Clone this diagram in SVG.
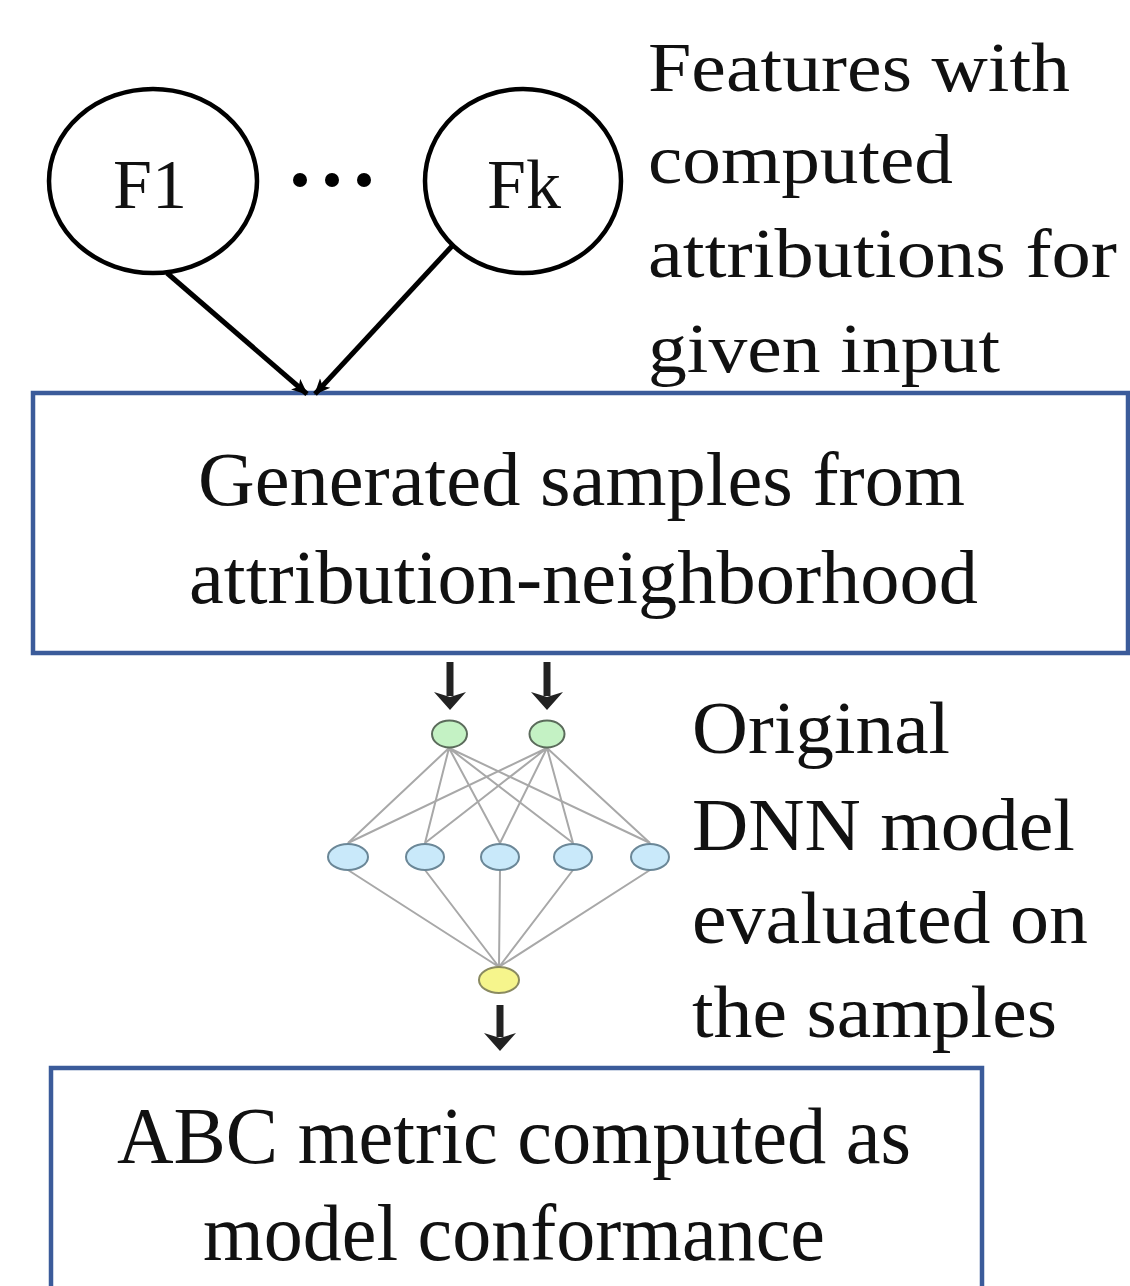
<svg xmlns="http://www.w3.org/2000/svg" width="1130" height="1286" viewBox="0 0 1130 1286">
  <style>
    .txt { font-family: "Liberation Serif", "Times New Roman", serif; fill: #111; }
    .feat { fill: #fff; stroke: #000; stroke-width: 4.5; }
    .box { fill: #fff; stroke: #3b5b9a; stroke-width: 4.5; }
    .conn { stroke: #000; stroke-width: 5; fill: none; }
    .syn { stroke: #a8a8a8; stroke-width: 2; fill: none; }
    .flow { stroke: #222; stroke-width: 7; fill: none; }
    .head { fill: #222; }
    .n-in { fill: #c4f2c4; stroke: #5b6b5b; stroke-width: 2; }
    .n-hid { fill: #c9e9fa; stroke: #6b8797; stroke-width: 2; }
    .n-out { fill: #f6f58c; stroke: #8a8a60; stroke-width: 2; }
  </style>
  <defs>
    <marker id="arrow" viewBox="0 0 16 16" refX="15" refY="8" markerWidth="16" markerHeight="16" orient="auto" markerUnits="userSpaceOnUse">
      <path d="M0,1 L16,8 L0,15 L4,8 Z" fill="#000"/>
    </marker>
  </defs>
  <rect width="1130" height="1286" fill="#fff"/>

  <!-- feature nodes -->
  <g id="node-f1">
    <ellipse class="feat" cx="153" cy="181" rx="104" ry="92"/>
    <text class="txt" x="150" y="208" font-size="70" text-anchor="middle">F1</text>
  </g>
  <g id="ellipsis">
    <circle cx="300" cy="180" r="7" fill="#000"/>
    <circle cx="332" cy="180" r="7" fill="#000"/>
    <circle cx="364" cy="180" r="7" fill="#000"/>
  </g>
  <g id="node-fk">
    <ellipse class="feat" cx="523" cy="181" rx="98" ry="92"/>
    <text class="txt" x="524" y="208" font-size="70" text-anchor="middle">Fk</text>
  </g>
  <g id="label-features">
    <text class="txt" font-size="70">
      <tspan x="648" y="91" textLength="422" lengthAdjust="spacingAndGlyphs">Features with</tspan>
      <tspan x="648" y="183" textLength="305" lengthAdjust="spacingAndGlyphs">computed</tspan>
      <tspan x="648" y="277" textLength="469" lengthAdjust="spacingAndGlyphs">attributions for</tspan>
      <tspan x="648" y="372" textLength="352" lengthAdjust="spacingAndGlyphs">given input</tspan>
    </text>
  </g>

  <!-- sample generation box -->
  <g id="node-samples">
    <rect class="box" x="33" y="393" width="1095" height="260"/>
    <text class="txt" font-size="76">
      <tspan x="198" y="505" textLength="767" lengthAdjust="spacingAndGlyphs">Generated samples from</tspan>
      <tspan x="189" y="603" textLength="789" lengthAdjust="spacingAndGlyphs">attribution-neighborhood</tspan>
    </text>
  </g>

  <!-- DNN model -->
  <g id="node-dnn">
    <g id="synapses">
      <path class="syn" d="M449,748 L348,843 M449,748 L425,843 M449,748 L500,843 M449,748 L573,843 M449,748 L650,843"/>
      <path class="syn" d="M547,748 L348,843 M547,748 L425,843 M547,748 L500,843 M547,748 L573,843 M547,748 L650,843"/>
      <path class="syn" d="M348,870 L499,967 M425,870 L499,967 M500,870 L499,967 M573,870 L499,967 M650,870 L499,967"/>
    </g>
    <ellipse class="n-in" cx="449.5" cy="734" rx="17.5" ry="13.5"/>
    <ellipse class="n-in" cx="547" cy="734" rx="17.5" ry="13.5"/>
    <ellipse class="n-hid" cx="348" cy="857" rx="20" ry="13"/>
    <ellipse class="n-hid" cx="425" cy="857" rx="19" ry="13"/>
    <ellipse class="n-hid" cx="500" cy="857" rx="19" ry="13"/>
    <ellipse class="n-hid" cx="573" cy="857" rx="19" ry="13"/>
    <ellipse class="n-hid" cx="650" cy="857" rx="19" ry="13"/>
    <ellipse class="n-out" cx="499" cy="980" rx="20" ry="13"/>
  </g>
  <g id="label-dnn">
    <text class="txt" font-size="74">
      <tspan x="692" y="753" textLength="258" lengthAdjust="spacingAndGlyphs">Original</tspan>
      <tspan x="692" y="850" textLength="383" lengthAdjust="spacingAndGlyphs">DNN model</tspan>
      <tspan x="692" y="943" textLength="396" lengthAdjust="spacingAndGlyphs">evaluated on</tspan>
      <tspan x="692" y="1037" textLength="365" lengthAdjust="spacingAndGlyphs">the samples</tspan>
    </text>
  </g>

  <!-- metric box -->
  <g id="node-metric">
    <rect class="box" x="51" y="1068" width="931" height="240"/>
    <text class="txt" font-size="80">
      <tspan x="117" y="1163" textLength="794" lengthAdjust="spacingAndGlyphs">ABC metric computed as</tspan>
      <tspan x="203" y="1260" textLength="622" lengthAdjust="spacingAndGlyphs">model conformance</tspan>
    </text>
  </g>

  <!-- connectors -->
  <g id="connectors">
    <line class="conn" x1="167" y1="273" x2="307" y2="394" marker-end="url(#arrow)"/>
    <line class="conn" x1="453" y1="245" x2="315" y2="394" marker-end="url(#arrow)"/>
    <g id="flow-in-1">
      <line class="flow" x1="450" y1="662" x2="450" y2="696"/>
      <path class="head" d="M434,692 L450,697 L466,692 L450,710 Z"/>
    </g>
    <g id="flow-in-2">
      <line class="flow" x1="547" y1="662" x2="547" y2="696"/>
      <path class="head" d="M531,692 L547,697 L563,692 L547,710 Z"/>
    </g>
    <g id="flow-out">
      <line class="flow" x1="500" y1="1005" x2="500" y2="1037"/>
      <path class="head" d="M484,1033 L500,1038 L516,1033 L500,1051 Z"/>
    </g>
  </g>
</svg>
